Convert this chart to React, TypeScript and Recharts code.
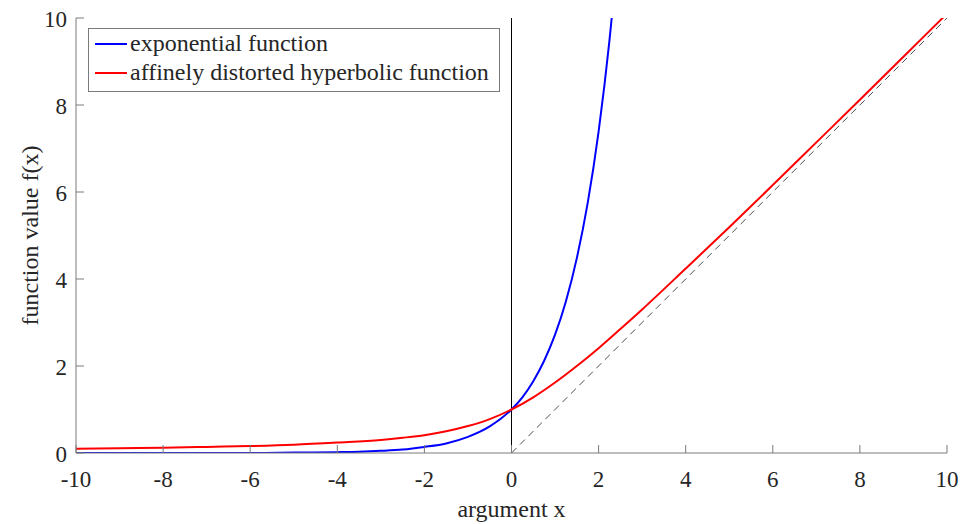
import React from "react";
import { LineChart, Line, XAxis, YAxis, ReferenceLine, Legend, Label } from "recharts";

// tick positions
const xTicks = [-10, -8, -6, -4, -2, 0, 2, 4, 6, 8, 10];
const yTicks = [0, 2, 4, 6, 8, 10];

// exponential function samples
const expX = [-10, -9, -8, -7, -6, -5, -4, -3.5, -3, -2.5, -2, -1.5, -1, -0.5, 0, 0.25, 0.5, 0.75, 1, 1.25, 1.5, 1.75, 2, 2.25, 2.5];
const expY = [0, 0, 0, 0, 0, 0.01, 0.02, 0.03, 0.05, 0.08, 0.14, 0.22, 0.37, 0.61, 1, 1.28, 1.65, 2.12, 2.72, 3.49, 4.48, 5.75, 7.39, 9.49, 12.2];

// affinely distorted hyperbolic function samples
const hypX = [-10, -9, -8, -7, -6, -5, -4, -3, -2.5, -2, -1.5, -1, -0.5, 0, 0.5, 1, 1.5, 2, 2.5, 3, 4, 5, 6, 7, 8, 9, 10];
const hypY = [0.1, 0.11, 0.12, 0.14, 0.16, 0.19, 0.24, 0.3, 0.35, 0.41, 0.5, 0.62, 0.78, 1, 1.28, 1.62, 2, 2.41, 2.85, 3.3, 4.24, 5.19, 6.16, 7.14, 8.12, 9.11, 10.1];

// dashed diagonal (asymptote)
const diagX = [0, 10];
const diagY = [0, 10];

const seriesNames = ["exponential function", "affinely distorted hyperbolic function"];
const seriesColors = ["#0000ff", "#ff0000"];

const toRows = (xs: number[], ys: number[]) => xs.map((x, i) => ({ x, y: ys[i] }));
const expData = toRows(expX, expY);
const hypData = toRows(hypX, hypY);
const diagData = toRows(diagX, diagY);

const FONT = "'Times New Roman', Times, 'Liberation Serif', 'DejaVu Serif', serif";
const TEXT = "#262626";
const AXIS = "#7a7a7a";
const TICK = 8;
const TICK_FS = 23;
const LABEL_FS = 24;

const BottomTick = (props: any) => {
  const { x, y, payload } = props;
  return (
    <g>
      <line x1={x} y1={y} x2={x} y2={y - TICK} stroke={AXIS} />
      <text x={x} y={y + 34} textAnchor="middle" fill={TEXT} style={{ fontSize: TICK_FS, fontFamily: FONT }}>
        {payload.value}
      </text>
    </g>
  );
};

const TopTick = (props: any) => {
  const { x, y } = props;
  return <line x1={x} y1={y} x2={x} y2={y + TICK} stroke={AXIS} />;
};

const LeftTick = (props: any) => {
  const { x, y, payload } = props;
  return (
    <g>
      <line x1={x} y1={y} x2={x + TICK} y2={y} stroke={AXIS} />
      <text x={x - 9} y={y + 9} textAnchor="end" fill={TEXT} style={{ fontSize: TICK_FS, fontFamily: FONT }}>
        {payload.value}
      </text>
    </g>
  );
};

const RightTick = (props: any) => {
  const { x, y } = props;
  return <line x1={x} y1={y} x2={x - TICK} y2={y} stroke={AXIS} />;
};

const LegendBox = () => (
  <div
    style={{
      width: 412,
      border: `1px solid ${AXIS}`,
      background: "#fff",
      padding: "0 0 4px 6px",
      fontFamily: FONT,
      fontSize: LABEL_FS,
      color: TEXT,
      whiteSpace: "nowrap",
      boxSizing: "border-box",
    }}
  >
    {seriesNames.map((name, i) => (
      <div key={name} style={{ display: "flex", alignItems: "center", height: 29 }}>
        <span style={{ width: 32, height: 2, background: seriesColors[i], marginRight: 3 }} />
        {name}
      </div>
    ))}
  </div>
);

export default function App() {
  return (
    <div style={{ position: "absolute", left: 0, top: 0, width: 966, height: 524, background: "#fff", fontFamily: FONT }}>
      <LineChart width={966} height={524} margin={{ top: 18, right: 19, bottom: 0, left: 0 }}>
        <XAxis
          dataKey="x"
          type="number"
          domain={[-10, 10]}
          ticks={xTicks}
          height={71}
          tickSize={0}
          tickMargin={0}
          tickLine={false}
          tick={<BottomTick />}
          axisLine={{ stroke: AXIS }}
        >
          <Label
            content={(p: any) => (
              <text
                x={p.viewBox.x + p.viewBox.width / 2}
                y={517}
                textAnchor="middle"
                fill={TEXT}
                style={{ fontSize: LABEL_FS, fontFamily: FONT }}
              >
                argument x
              </text>
            )}
          />
        </XAxis>
        <XAxis
          xAxisId="top"
          orientation="top"
          dataKey="x"
          type="number"
          domain={[-10, 10]}
          ticks={xTicks}
          height={0}
          tickSize={0}
          tickMargin={0}
          tickLine={false}
          tick={<TopTick />}
          axisLine={{ stroke: AXIS }}
        />
        <YAxis
          type="number"
          domain={[0, 10]}
          ticks={yTicks}
          allowDataOverflow
          width={76}
          tickSize={0}
          tickMargin={0}
          tickLine={false}
          tick={<LeftTick />}
          axisLine={{ stroke: AXIS }}
        >
          <Label
            content={(p: any) => {
              const cx = 38;
              const cy = p.viewBox.y + p.viewBox.height / 2;
              return (
                <text
                  x={cx}
                  y={cy}
                  transform={`rotate(-90 ${cx} ${cy})`}
                  textAnchor="middle"
                  fill={TEXT}
                  style={{ fontSize: LABEL_FS, fontFamily: FONT }}
                >
                  function value f(x)
                </text>
              );
            }}
          />
        </YAxis>
        <YAxis
          yAxisId="right"
          orientation="right"
          type="number"
          domain={[0, 10]}
          ticks={yTicks}
          width={0}
          tickSize={0}
          tickMargin={0}
          tickLine={false}
          tick={<RightTick />}
          axisLine={{ stroke: AXIS }}
        />
        <ReferenceLine x={0} stroke="#000" strokeWidth={1} />
        <Line
          data={diagData}
          dataKey="y"
          type="linear"
          stroke="#000"
          strokeWidth={0.7}
          strokeDasharray="7 5"
          dot={false}
          legendType="none"
          isAnimationActive={false}
        />
        <Line
          data={expData}
          dataKey="y"
          name={seriesNames[0]}
          type="monotone"
          stroke={seriesColors[0]}
          strokeWidth={2}
          dot={false}
          isAnimationActive={false}
        />
        <Line
          data={hypData}
          dataKey="y"
          name={seriesNames[1]}
          type="monotone"
          stroke={seriesColors[1]}
          strokeWidth={2}
          dot={false}
          isAnimationActive={false}
        />
        <Legend
          layout="horizontal"
          verticalAlign="middle"
          align="center"
          wrapperStyle={{ left: 88, top: 28, width: "auto" }}
          content={() => <LegendBox />}
        />
      </LineChart>
    </div>
  );
}
